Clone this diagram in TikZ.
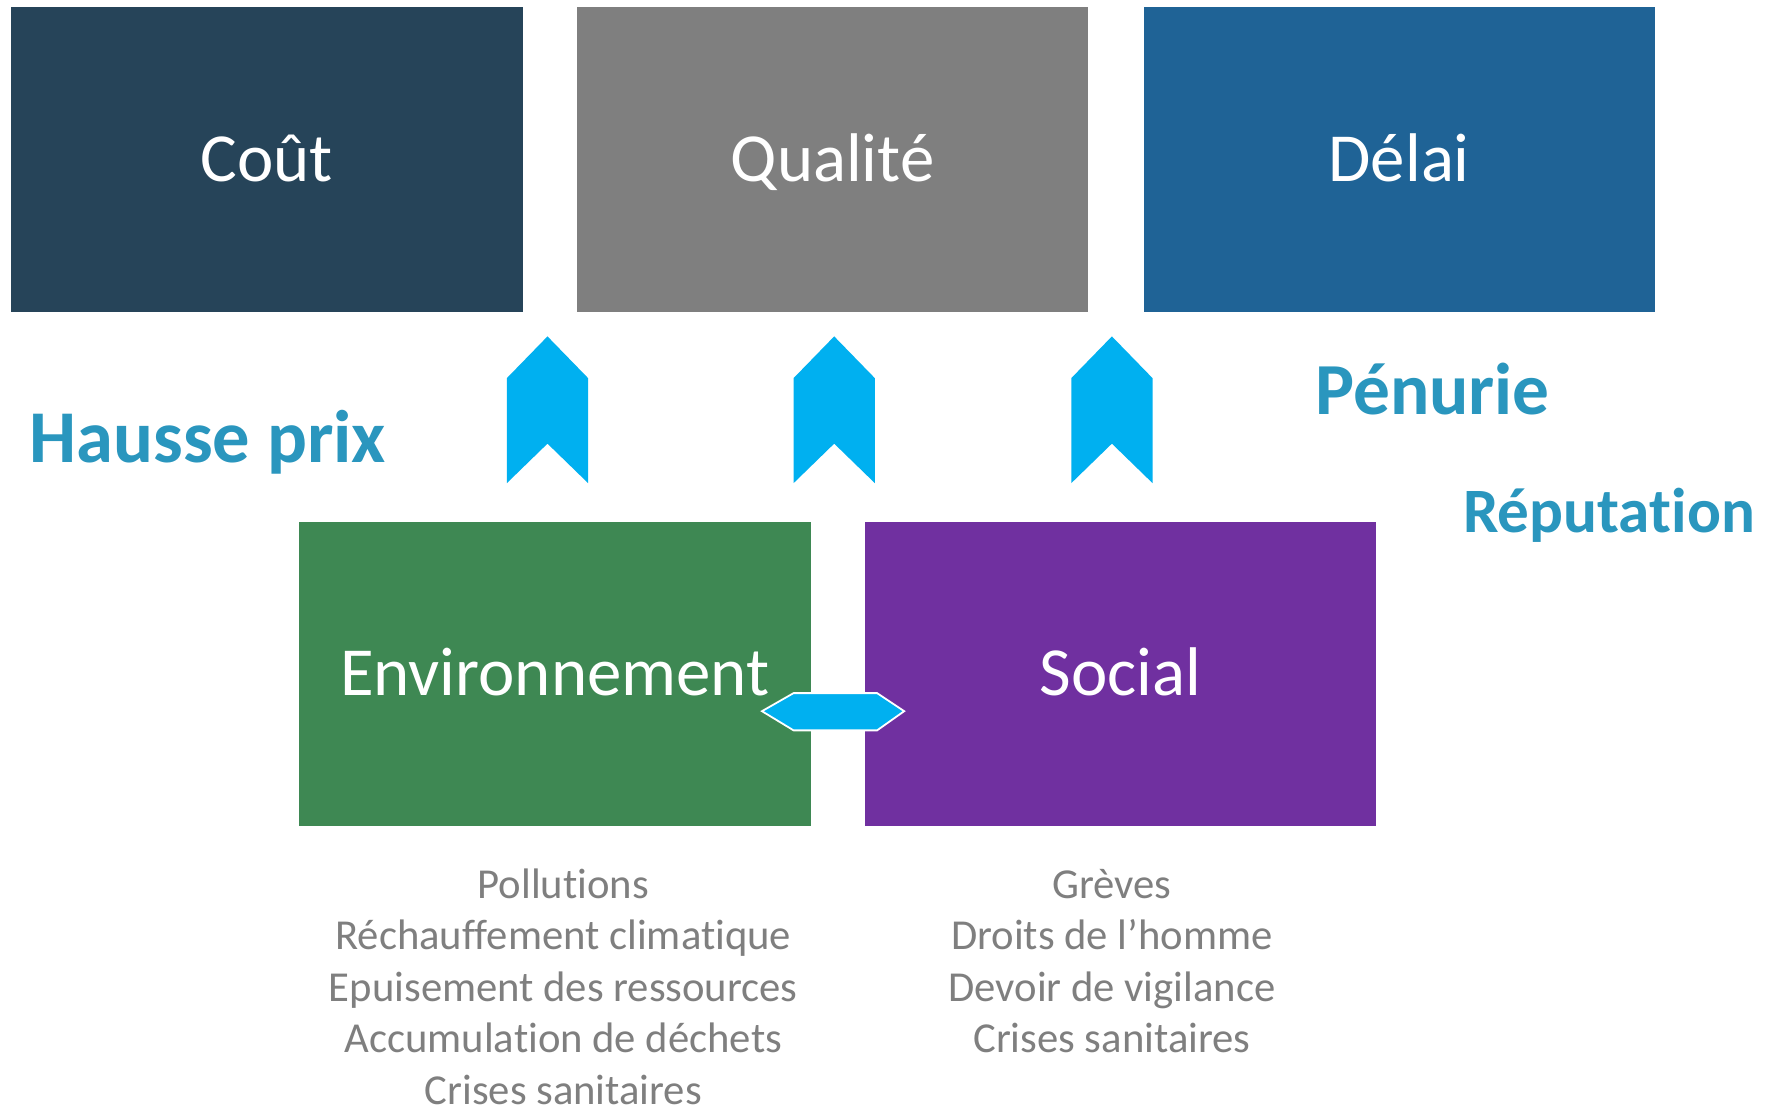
\documentclass[tikz,border=0pt]{standalone}
\usepackage{fontspec}
\setmainfont[Ligatures=NoCommon,RawFeature={-liga;-clig;-dlig}]{Carlito}
\definecolor{cout}{HTML}{264459}
\definecolor{qual}{HTML}{7F7F7F}
\definecolor{delai}{HTML}{1F6396}
\definecolor{envc}{HTML}{3E8853}
\definecolor{socc}{HTML}{7030A0}
\definecolor{arrc}{HTML}{00B0F0}
\definecolor{listc}{HTML}{7F7F7F}
\definecolor{riskc}{HTML}{2A96BE}
\begin{document}
\begin{tikzpicture}[x=1pt,y=-1pt,
  bigbox/.style={draw=none, minimum width=453pt, minimum height=270pt, inner sep=0pt,
    text=white, font=\fontsize{61}{70}\selectfont, text height=39pt, text depth=0pt},
  chev/.style={fill=arrc, draw=none},
  linkarrow/.style={fill=arrc, draw=white, line width=1.6pt, line join=miter},
  listline/.style={anchor=base, inner sep=0pt, text=listc, font=\fontsize{37.8}{45}\selectfont},
  risk/.style={anchor=base west, inner sep=0pt, text=riskc, font=\bfseries\fontsize{66}{72}\selectfont}
]
\useasboundingbox (0,0) rectangle (1568,980);
\fill[white] (0,0) rectangle (1568,980);

% top boxes
\node[bigbox, fill=cout]  (cout)  at (236.5,141) {Coût};
\node[bigbox, fill=qual]  (qual)  at (737.5,141) {Qualité};
\node[bigbox, fill=delai] (delai) at (1239.5,141) {Délai};

% bottom boxes
\node[bigbox, fill=envc] (env) at (491.5,597) {Environnement};
\node[bigbox, fill=socc] (soc) at (992.5,597) {Social};

% chevrons
\foreach \cx in {485,739,985}{
  \fill[chev] (\cx-36,428) -- (\cx-36,335) -- (\cx,298) -- (\cx+36,335)
     -- (\cx+36,428) -- (\cx,393) -- cycle;
}

% double arrow between Environnement and Social
\coordinate (dl) at (675,630);
\coordinate (dr) at (801,630);
\draw[linkarrow] (dl) -- (703,614) -- (777,614) -- (dr) -- (777,647) -- (703,647) -- cycle;

% risk labels
\node[risk] (hausse) at (26,410) {Hausse prix};
\node[risk, font=\bfseries\fontsize{65}{72}\selectfont] (penurie) at (1165,367) {Pénurie};
\node[risk, font=\bfseries\fontsize{56}{64}\selectfont] (reput) at (1296,472) {Réputation};

% lists
\node[listline] (e1) at (499,796) {Pollutions};
\node[listline] (e2) at (499,841.5) {Réchauffement climatique};
\node[listline] (e3) at (499,887) {Epuisement des ressources};
\node[listline] (e4) at (499,932.5) {Accumulation de déchets};
\node[listline] (e5) at (499,978) {Crises sanitaires};

\node[listline] (s1) at (985,796) {Grèves};
\node[listline] (s2) at (985,841.5) {Droits de l’homme};
\node[listline] (s3) at (985,887) {Devoir de vigilance};
\node[listline] (s4) at (985,932.5) {Crises sanitaires};
\end{tikzpicture}
\end{document}
